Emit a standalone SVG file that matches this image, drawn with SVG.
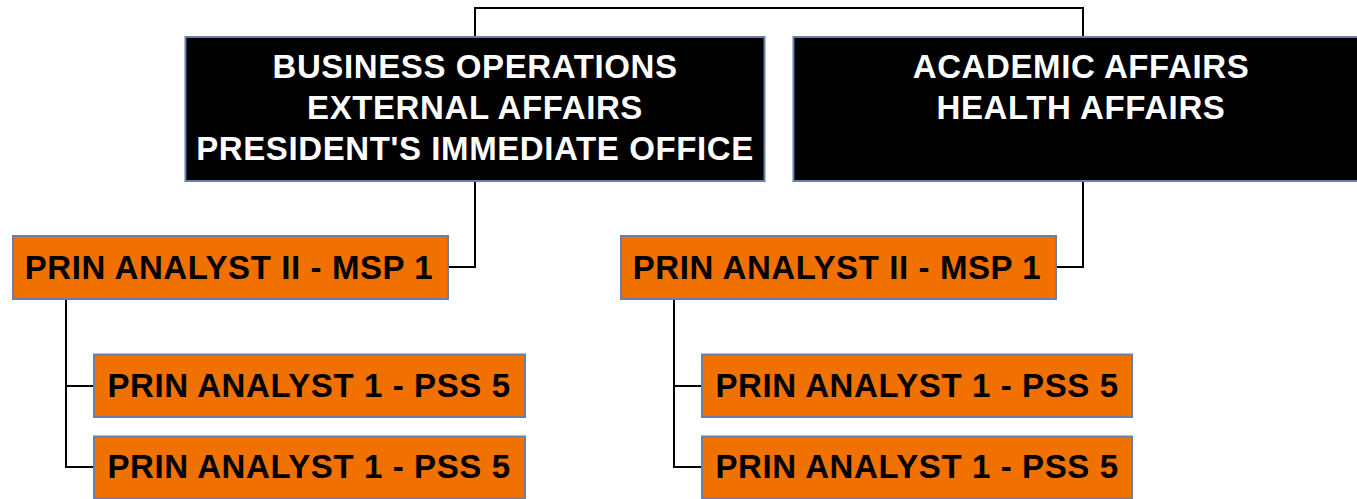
<svg xmlns="http://www.w3.org/2000/svg" width="1357" height="499" viewBox="0 0 1357 499">
<style>
.blk{fill:#000;stroke:#6a7fa8;stroke-width:2}
.org{fill:#f07000;stroke:#6a7fa8;stroke-width:2}
.tw{fill:#fff;font-family:"Liberation Sans",Arial,sans-serif;font-weight:bold;font-size:33px;letter-spacing:0.6px;text-anchor:middle}
.tb{fill:#000;font-family:"Liberation Sans",Arial,sans-serif;font-weight:bold;font-size:33px;letter-spacing:0.6px;text-anchor:middle}
.con{fill:none;stroke:#000;stroke-width:2}
</style>
<rect width="1357" height="499" fill="#fff"/>
<g id="connectors">
<path class="con" d="M475 37 V8 H1083 V37"/>
<path class="con" d="M475 181 V267 H448"/>
<path class="con" d="M1083 181 V267 H1056"/>
<path class="con" d="M66 299 V467 H94 M66 386 H94"/>
<path class="con" d="M674 299 V467 H702 M674 386 H702"/>
</g>
<g id="node-business">
<rect class="blk" x="185.5" y="37" width="579" height="144"/>
<text class="tw" x="475" y="78">BUSINESS OPERATIONS</text>
<text class="tw" x="475" y="119">EXTERNAL AFFAIRS</text>
<text class="tw" x="475" y="160">PRESIDENT'S IMMEDIATE OFFICE</text>
</g>
<g id="node-academic">
<rect class="blk" x="793.5" y="37" width="580" height="144"/>
<text class="tw" x="1081" y="78">ACADEMIC AFFAIRS</text>
<text class="tw" x="1081" y="119">HEALTH AFFAIRS</text>
</g>
<g id="node-left-msp">
<rect class="org" x="13" y="236" width="435" height="63"/>
<text class="tb" x="229" y="279">PRIN ANALYST II - MSP 1</text>
</g>
<g id="node-right-msp">
<rect class="org" x="621" y="236" width="435" height="63"/>
<text class="tb" x="837" y="279">PRIN ANALYST II - MSP 1</text>
</g>
<g id="node-left-pss-1">
<rect class="org" x="94" y="354.5" width="431" height="62.5"/>
<text class="tb" x="309" y="397">PRIN ANALYST 1 - PSS 5</text>
</g>
<g id="node-left-pss-2">
<rect class="org" x="94" y="436.5" width="431" height="62"/>
<text class="tb" x="309" y="478">PRIN ANALYST 1 - PSS 5</text>
</g>
<g id="node-right-pss-1">
<rect class="org" x="702" y="354.5" width="430" height="62.5"/>
<text class="tb" x="917" y="397">PRIN ANALYST 1 - PSS 5</text>
</g>
<g id="node-right-pss-2">
<rect class="org" x="702" y="436.5" width="430" height="62"/>
<text class="tb" x="917" y="478">PRIN ANALYST 1 - PSS 5</text>
</g>
</svg>
